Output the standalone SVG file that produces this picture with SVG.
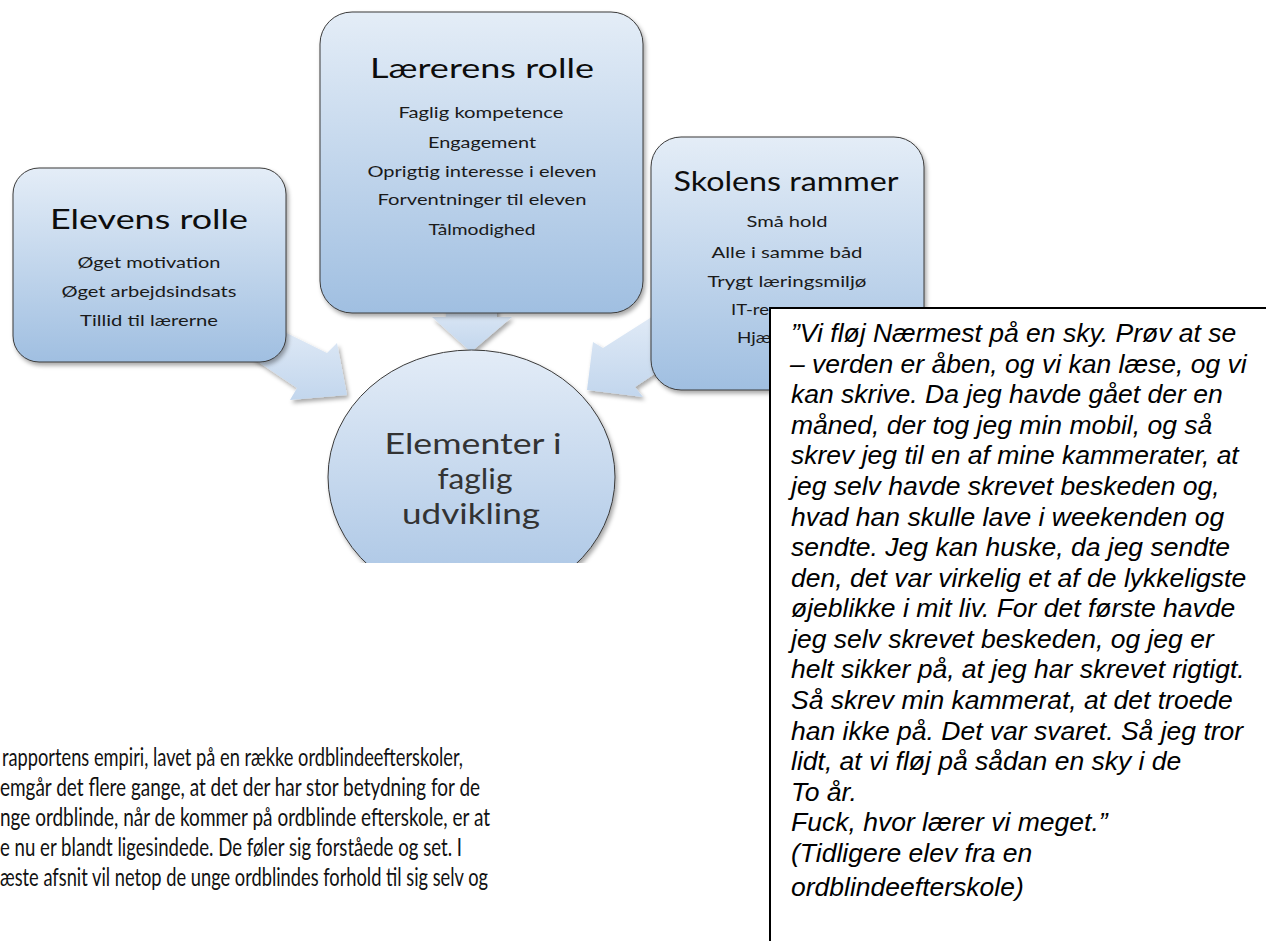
<svg xmlns="http://www.w3.org/2000/svg" width="1266" height="941" viewBox="0 0 1266 941">
<defs>
  <linearGradient id="boxGrad" x1="0" y1="0" x2="0" y2="1">
    <stop offset="0" stop-color="#e4edf7"/>
    <stop offset="1" stop-color="#a0bfe1"/>
  </linearGradient>
  <linearGradient id="circGrad" x1="0" y1="0" x2="0" y2="1">
    <stop offset="0" stop-color="#e3ecf7"/>
    <stop offset="1" stop-color="#a8c4e4"/>
  </linearGradient>
  <linearGradient id="arrowGrad" x1="0" y1="0" x2="0" y2="1">
    <stop offset="0" stop-color="#e6eef8"/>
    <stop offset="1" stop-color="#c2d6ed"/>
  </linearGradient>
  <filter id="shadow" x="-10%" y="-10%" width="130%" height="130%">
    <feDropShadow dx="2" dy="3" stdDeviation="2" flood-color="#000000" flood-opacity="0.35"/>
  </filter>
  <clipPath id="clipBottom"><rect x="0" y="0" width="1266" height="563"/></clipPath>
</defs>
<style>
  .box { fill: url(#boxGrad); stroke: #3a3a3a; stroke-width: 1; filter: url(#shadow); }
  .arrow { fill: url(#arrowGrad); stroke: none; filter: url(#shadow); }
  .title { font-family: Lato, "Liberation Sans", sans-serif; font-size: 27px; fill: #0d0d0d; text-anchor: middle; }
  .item { font-family: Lato, "Liberation Sans", sans-serif; font-size: 16px; fill: #1a1a1a; text-anchor: middle; }
  .itemL { font-family: Lato, "Liberation Sans", sans-serif; font-size: 16px; fill: #1a1a1a; }
  .ctext { font-family: Lato, "Liberation Sans", sans-serif; font-size: 28px; fill: #333333; text-anchor: middle; }
  .quote { font-family: "Liberation Sans", Arial, sans-serif; font-style: italic; font-size: 26.5px; fill: #000000; }
  .body { font-family: Lato, "Liberation Sans", sans-serif; font-size: 25px; fill: #111111; }
</style>

<g id="connectors">
  <polygon class="arrow" points="240,310 327,353 337,343 347,395 290,400 297,388 220,336"/>
  <polygon class="arrow" points="446,290 497,290 497,317 512,317 471,352 432,317 446,317"/>
  <polygon class="arrow" points="680,299 603,348 593,342 587,390 643,397 635,387 680,357"/>
</g>

<g id="node-elevens">
  <rect class="box" x="13" y="168" width="273" height="194" rx="26" ry="26"/>
  <text class="title" x="149" y="229" textLength="198" lengthAdjust="spacingAndGlyphs">Elevens rolle</text>
  <text class="item" x="149" y="268" textLength="143" lengthAdjust="spacingAndGlyphs">Øget motivation</text>
  <text class="item" x="149" y="297" textLength="175" lengthAdjust="spacingAndGlyphs">Øget arbejdsindsats</text>
  <text class="item" x="149" y="326" textLength="138" lengthAdjust="spacingAndGlyphs">Tillid til lærerne</text>
</g>

<g id="node-laererens">
  <rect class="box" x="320" y="12" width="323" height="301" rx="32" ry="32"/>
  <text class="title" x="482" y="78" textLength="224" lengthAdjust="spacingAndGlyphs">Lærerens rolle</text>
  <text class="item" x="481" y="118" textLength="165" lengthAdjust="spacingAndGlyphs">Faglig kompetence</text>
  <text class="item" x="482" y="148" textLength="108" lengthAdjust="spacingAndGlyphs">Engagement</text>
  <text class="item" x="482" y="177" textLength="229" lengthAdjust="spacingAndGlyphs">Oprigtig interesse i eleven</text>
  <text class="item" x="482" y="205" textLength="209" lengthAdjust="spacingAndGlyphs">Forventninger til eleven</text>
  <text class="item" x="482" y="235" textLength="107" lengthAdjust="spacingAndGlyphs">Tålmodighed</text>
</g>

<g id="node-skolens">
  <rect class="box" x="651" y="137" width="273" height="253" rx="30" ry="30"/>
  <text class="title" x="786" y="191" textLength="225" lengthAdjust="spacingAndGlyphs">Skolens rammer</text>
  <text class="item" x="787" y="227" textLength="81" lengthAdjust="spacingAndGlyphs">Små hold</text>
  <text class="item" x="787" y="258" textLength="151" lengthAdjust="spacingAndGlyphs">Alle i samme båd</text>
  <text class="item" x="787" y="287" textLength="159" lengthAdjust="spacingAndGlyphs">Trygt læringsmiljø</text>
  <text class="itemL" x="731" y="315" textLength="38" lengthAdjust="spacingAndGlyphs">IT-re</text>
  <text class="itemL" x="737" y="343" textLength="34" lengthAdjust="spacingAndGlyphs">Hjæ</text>
</g>

<g id="node-center" clip-path="url(#clipBottom)">
  <ellipse cx="471.5" cy="477" rx="143.5" ry="127" fill="url(#circGrad)" stroke="#3a3a3a" stroke-width="1" filter="url(#shadow)"/>
  <text class="ctext" x="473" y="454" textLength="177" lengthAdjust="spacingAndGlyphs">Elementer i</text>
  <text class="ctext" x="475" y="489" textLength="75" lengthAdjust="spacingAndGlyphs">faglig</text>
  <text class="ctext" x="471" y="524" textLength="138" lengthAdjust="spacingAndGlyphs">udvikling</text>
</g>

<g id="quote-box">
  <rect x="770" y="308" width="510" height="650" fill="#ffffff" stroke="#000000" stroke-width="2"/>
  <text class="quote" x="791" y="342">”Vi fløj Nærmest på en sky. Prøv at se</text>
  <text class="quote" x="790" y="372.5">– verden er åben, og vi kan læse, og vi</text>
  <text class="quote" x="791" y="403">kan skrive. Da jeg havde gået der en</text>
  <text class="quote" x="791" y="433.5">måned, der tog jeg min mobil, og så</text>
  <text class="quote" x="791" y="464">skrev jeg til en af mine kammerater, at</text>
  <text class="quote" x="791" y="495">jeg selv havde skrevet beskeden og,</text>
  <text class="quote" x="791" y="525.5">hvad han skulle lave i weekenden og</text>
  <text class="quote" x="791" y="556">sendte. Jeg kan huske, da jeg sendte</text>
  <text class="quote" x="791" y="586.5">den, det var virkelig et af de lykkeligste</text>
  <text class="quote" x="791" y="617">øjeblikke i mit liv. For det første havde</text>
  <text class="quote" x="791" y="647.5">jeg selv skrevet beskeden, og jeg er</text>
  <text class="quote" x="791" y="678">helt sikker på, at jeg har skrevet rigtigt.</text>
  <text class="quote" x="791" y="709">Så skrev min kammerat, at det troede</text>
  <text class="quote" x="791" y="739.5">han ikke på. Det var svaret. Så jeg tror</text>
  <text class="quote" x="791" y="770">lidt, at vi fløj på sådan en sky i de</text>
  <text class="quote" x="791" y="800.5">To år.</text>
  <text class="quote" x="791" y="831">Fuck, hvor lærer vi meget.”</text>
  <text class="quote" x="791" y="861.5">(Tidligere elev fra en</text>
  <text class="quote" x="791" y="896">ordblindeefterskole)</text>
</g>

<g id="body-text">
  <text class="body" x="2" y="766" textLength="461" lengthAdjust="spacingAndGlyphs">rapportens empiri, lavet på en række ordblindeefterskoler,</text>
  <text class="body" x="0" y="796" textLength="480" lengthAdjust="spacingAndGlyphs">emgår det flere gange, at det der har stor betydning for de</text>
  <text class="body" x="0" y="826" textLength="490" lengthAdjust="spacingAndGlyphs">nge ordblinde, når de kommer på ordblinde efterskole, er at</text>
  <text class="body" x="0" y="856" textLength="462" lengthAdjust="spacingAndGlyphs">e nu er blandt ligesindede. De føler sig forståede og set. I</text>
  <text class="body" x="0" y="886" textLength="488" lengthAdjust="spacingAndGlyphs">æste afsnit vil netop de unge ordblindes forhold til sig selv og</text>
</g>
</svg>
